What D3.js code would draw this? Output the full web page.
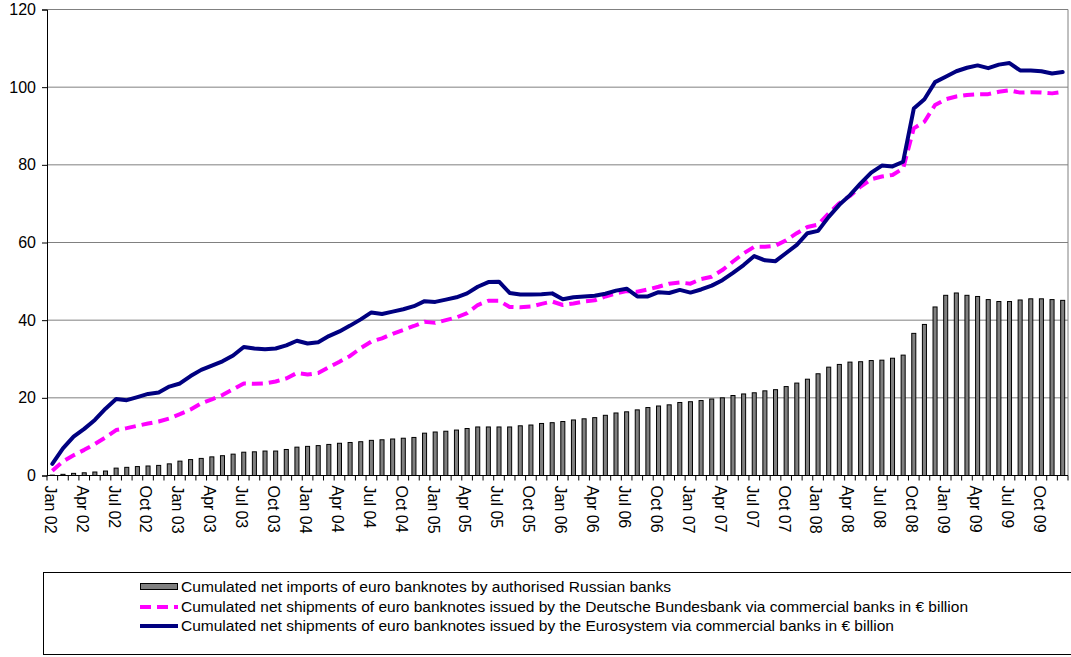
<!DOCTYPE html>
<html>
<head>
<meta charset="utf-8">
<script src="https://cdn.jsdelivr.net/npm/d3@7"></script>
<style>
  body { margin: 0; background: #fff; }
  text { font-family: Arial, "Liberation Sans", sans-serif; fill: #000; }
</style>
</head>
<body>
<script>
// month categories Jan 02 .. Dec 09
var anos = ["02", "03", "04", "05", "06", "07", "08", "09"]
var meses = ["Jan", "Feb", "Mar", "Apr", "May", "Jun", "Jul", "Aug", "Sep", "Oct", "Nov", "Dec"]
var categorias = []
anos.forEach(a => meses.forEach(m => categorias.push(m + " " + a)))

var yTicks = [0, 20, 40, 60, 80, 100, 120]

// cumulated net imports by authorised Russian banks
var importacoesRussia = [0.1, 0.3, 0.55, 0.7, 0.9, 1.15, 1.9, 2.1, 2.3, 2.45, 2.6, 3.0,
  3.7, 4.1, 4.4, 4.8, 5.1, 5.5, 6.0, 6.1, 6.3, 6.3, 6.7, 7.3,
  7.5, 7.7, 8.0, 8.3, 8.5, 8.7, 9.05, 9.2, 9.4, 9.6, 9.8, 10.9,
  11.2, 11.4, 11.7, 12.1, 12.5, 12.5, 12.5, 12.5, 12.8, 13.0, 13.4, 13.6,
  13.9, 14.3, 14.6, 14.9, 15.5, 16.1, 16.4, 16.9, 17.5, 17.9, 18.2, 18.8,
  19.0, 19.3, 19.7, 20.0, 20.6, 21.0, 21.3, 21.8, 22.1, 22.9, 23.8, 24.8,
  26.2, 27.9, 28.6, 29.2, 29.3, 29.6, 29.7, 30.2, 31.0, 36.6, 38.9, 43.4,
  46.4, 47.0, 46.4, 46.1, 45.3, 44.8, 44.8, 45.2, 45.5, 45.5, 45.3, 45.1]

// Deutsche Bundesbank shipments
var bundesbank = [1.2, 3.6, 5.2, 6.6, 8.1, 9.8, 11.7, 12.2, 12.8, 13.4, 13.9, 14.7,
  15.8, 17.0, 18.6, 19.6, 20.7, 22.2, 23.7, 23.6, 23.7, 24.2, 25.0, 26.4,
  26.0, 26.4, 27.9, 29.3, 30.8, 32.8, 34.5, 35.3, 36.5, 37.5, 38.5, 39.6,
  39.3, 40.0, 40.7, 41.8, 43.9, 45.0, 45.0, 43.4, 43.3, 43.5, 44.2, 44.8,
  43.9, 44.3, 44.8, 45.1, 46.1, 46.9, 47.5, 47.3, 47.9, 48.6, 49.4, 49.7,
  49.4, 50.6, 51.2, 52.9, 55.1, 57.2, 58.9, 58.9, 59.2, 60.6, 62.4, 64.0,
  64.6, 67.5, 70.1, 72.0, 74.4, 76.3, 77.0, 77.4, 79.1, 89.4, 91.1, 95.4,
  96.9, 97.6, 98.0, 98.2, 98.2, 98.8, 99.2, 98.6, 98.7, 98.6, 98.4, 98.8]

// Eurosystem shipments
var eurosistema = [3.0, 7.0, 10.0, 12.0, 14.3, 17.2, 19.7, 19.4, 20.2, 21.0, 21.4, 22.9,
  23.7, 25.6, 27.2, 28.3, 29.4, 30.9, 33.1, 32.7, 32.5, 32.7, 33.5, 34.7,
  34.0, 34.3, 35.9, 37.1, 38.6, 40.2, 42.0, 41.6, 42.2, 42.8, 43.6, 44.9,
  44.7, 45.3, 45.9, 46.9, 48.6, 49.8, 49.9, 47.0, 46.6, 46.6, 46.7, 46.9,
  45.4, 45.9, 46.1, 46.3, 46.8, 47.6, 48.1, 46.1, 46.1, 47.2, 47.0, 47.8,
  47.1, 47.9, 48.9, 50.3, 52.2, 54.2, 56.5, 55.4, 55.2, 57.3, 59.4, 62.4,
  63.0, 66.6, 69.7, 72.2, 75.2, 78.0, 79.8, 79.6, 80.8, 94.5, 96.9, 101.3,
  102.7, 104.1, 105.0, 105.6, 104.9, 105.8, 106.2, 104.3, 104.3, 104.1, 103.5, 103.9]

var legendas = [
  "Cumulated net imports of euro banknotes by authorised Russian banks",
  "Cumulated net shipments of euro banknotes issued by the Deutsche Bundesbank via commercial banks in \u20ac billion",
  "Cumulated net shipments of euro banknotes issued by the Eurosystem via commercial banks in \u20ac billion"
]

const largura = 1071, altura = 657
const esq = 47, dir = 1068, topo = 9.5, base = 475.5

svg = d3.select("body")
  .append("svg")
  .attr("width", largura)
  .attr("height", altura)

var escalaX = d3.scaleBand()
  .domain(categorias)
  .range([esq, dir])
  .padding(0)

var escalaY = d3.scaleLinear()
  .domain([0, 120])
  .range([base, topo])

// gridlines
svg.append("g")
  .selectAll("line")
  .data(yTicks.filter(d => d > 0))
  .join("line")
  .attr("x1", esq)
  .attr("x2", dir)
  .attr("y1", d => escalaY(d))
  .attr("y2", d => escalaY(d))
  .attr("stroke", "#808080")
  .attr("stroke-width", 1)

// right border of plot area
svg.append("line")
  .attr("x1", dir).attr("x2", dir)
  .attr("y1", topo).attr("y2", base)
  .attr("stroke", "#808080")

// y axis
var eixoY = d3.axisLeft(escalaY)
  .tickValues(yTicks)
  .tickSize(5)
  .tickPadding(6)
svg.append("g")
  .attr("transform", "translate(" + esq + ",0)")
  .call(eixoY)
  .call(g => g.selectAll("path, line").attr("stroke", "#000"))
  .call(g => g.selectAll("text").attr("font-size", 16).attr("font-family", "Arial, 'Liberation Sans', sans-serif"))

// bars
var larguraBarra = escalaX.bandwidth() * 0.38
svg.append("g")
  .selectAll("rect")
  .data(importacoesRussia)
  .join("rect")
  .attr("x", (d, i) => escalaX(categorias[i]) + (escalaX.bandwidth() - larguraBarra) / 2)
  .attr("y", d => escalaY(d))
  .attr("width", larguraBarra)
  .attr("height", d => escalaY(0) - escalaY(d))
  .attr("fill", "#808080")
  .attr("stroke", "#000")
  .attr("stroke-width", 1)

// x axis (ticks between categories)
var eixoX = svg.append("g")
eixoX.append("line")
  .attr("x1", esq).attr("x2", dir)
  .attr("y1", base).attr("y2", base)
  .attr("stroke", "#000")
eixoX.selectAll("line.tick")
  .data(categorias.concat(["fim"]))
  .join("line")
  .attr("class", "tick")
  .attr("x1", (d, i) => esq + i * escalaX.bandwidth())
  .attr("x2", (d, i) => esq + i * escalaX.bandwidth())
  .attr("y1", base)
  .attr("y2", base + 5)
  .attr("stroke", "#000")

eixoX.selectAll("text")
  .data(categorias.filter((d, i) => i % 3 == 0))
  .join("text")
  .attr("transform", d => "translate(" + (escalaX(d) + escalaX.bandwidth() / 2 - 2) + "," + (base + 10) + ") rotate(90)")
  .attr("dy", "0.35em")
  .attr("font-size", 16)
  .text(d => d)

// lines
var linha = d3.line()
  .x((d, i) => escalaX(categorias[i]) + escalaX.bandwidth() / 2)
  .y(d => escalaY(d))

svg.append("path")
  .datum(bundesbank)
  .attr("d", linha)
  .attr("fill", "none")
  .attr("stroke", "#ff00ff")
  .attr("stroke-width", 4)
  .attr("stroke-dasharray", "11,6")
  .attr("stroke-linejoin", "round")

svg.append("path")
  .datum(eurosistema)
  .attr("d", linha)
  .attr("fill", "none")
  .attr("stroke", "#000080")
  .attr("stroke-width", 4)
  .attr("stroke-linejoin", "round")
  .attr("stroke-linecap", "round")

// legend
var legenda = svg.append("g")
legenda.append("rect")
  .attr("x", 43.5).attr("y", 572.5)
  .attr("width", 1040).attr("height", 82)
  .attr("fill", "none")
  .attr("stroke", "#000")
  .attr("stroke-width", 1)

var yLeg = [587, 607, 626]
legenda.append("rect")
  .attr("x", 140.5).attr("y", yLeg[0] - 3.5)
  .attr("width", 37).attr("height", 6)
  .attr("fill", "#808080")
  .attr("stroke", "#000")
legenda.append("line")
  .attr("x1", 140).attr("x2", 178)
  .attr("y1", yLeg[1]).attr("y2", yLeg[1])
  .attr("stroke", "#ff00ff")
  .attr("stroke-width", 4)
  .attr("stroke-dasharray", "11,6")
legenda.append("line")
  .attr("x1", 140).attr("x2", 178)
  .attr("y1", yLeg[2]).attr("y2", yLeg[2])
  .attr("stroke", "#000080")
  .attr("stroke-width", 4)

legenda.selectAll("text")
  .data(legendas)
  .join("text")
  .attr("x", 181)
  .attr("y", (d, i) => yLeg[i])
  .attr("dy", "0.35em")
  .attr("font-size", 15.5)
  .attr("textLength", (d, i) => [490, 787, 713][i])
  .attr("lengthAdjust", "spacingAndGlyphs")
  .text(d => d)
</script>
</body>
</html>
